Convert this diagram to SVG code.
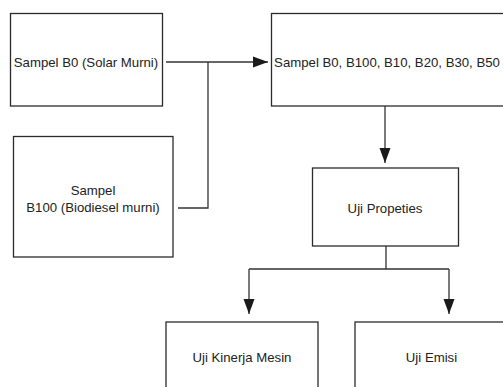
<svg xmlns="http://www.w3.org/2000/svg" width="503" height="387" viewBox="0 0 503 387">
<style>
.box{fill:#fff;stroke:#2b2b2b;stroke-width:1.3}
.t{font-family:"Liberation Sans",Arial,sans-serif;font-size:13.2px;fill:#222;text-anchor:middle}
.c{fill:none;stroke:#333;stroke-width:1.3}
</style>
<defs>
<marker id="ah" viewBox="0 0 15 12" refX="15" refY="6" markerWidth="15" markerHeight="12" markerUnits="userSpaceOnUse" orient="auto">
<path d="M0,0.5 L15,6 L0,11.5 Z" fill="#1a1a1a"/>
</marker>
</defs>
<rect width="503" height="387" fill="#fff"/>
<g id="connectors">
<path class="c" d="M166,62 H268" marker-end="url(#ah)"/>
<path class="c" d="M178,208 H208 V62"/>
<path class="c" d="M385,106 V163" marker-end="url(#ah)"/>
<path class="c" d="M386,246 V269 M249,269 H449"/>
<path class="c" d="M249,269 V314" marker-end="url(#ah)"/>
<path class="c" d="M449,269 V314" marker-end="url(#ah)"/>
</g>
<g id="n1"><rect class="box" x="10.5" y="13.5" width="152" height="92.5"/><text class="t" x="86" y="66.5">Sampel B0 (Solar Murni)</text></g>
<g id="n2"><rect class="box" x="271.5" y="13.5" width="240" height="92.5"/><text class="t" x="387" y="66.5">Sampel B0, B100, B10, B20, B30, B50</text></g>
<g id="n3"><rect class="box" x="13.5" y="136.5" width="159.5" height="120.5"/><text class="t" x="93" y="194.5">Sampel</text><text class="t" x="93" y="211.5">B100 (Biodiesel murni)</text></g>
<g id="n4"><rect class="box" x="312.5" y="168" width="146" height="78"/><text class="t" x="385" y="212.5">Uji Propeties</text></g>
<g id="n5"><rect class="box" x="166" y="322" width="152" height="80"/><text class="t" x="242" y="361.5">Uji Kinerja Mesin</text></g>
<g id="n6"><rect class="box" x="355" y="322" width="160" height="80"/><text class="t" x="431.5" y="361.5">Uji Emisi</text></g>
</svg>
